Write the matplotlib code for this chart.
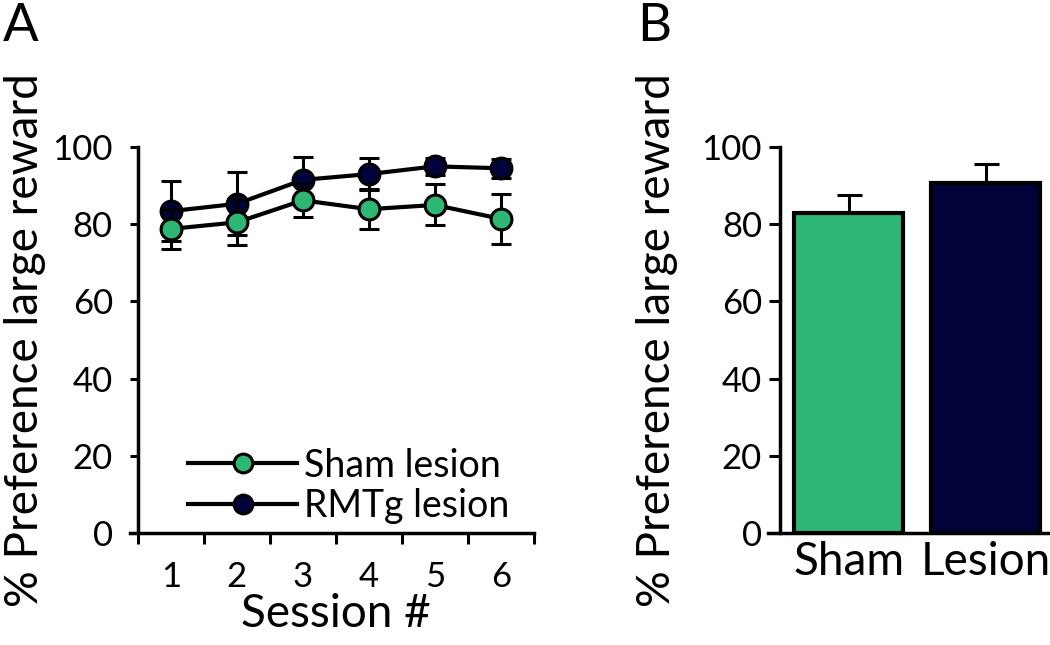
import matplotlib.pyplot as plt
import numpy as np

plt.rcParams['font.family'] = ['Lato', 'DejaVu Sans']

# panel A data
sessions = [1, 2, 3, 4, 5, 6]
sham_mean = [78.8, 80.5, 86.2, 83.9, 85.0, 81.4]
sham_err = [5.2, 6.0, 4.3, 5.2, 5.3, 6.4]
rmtg_mean = [83.4, 85.3, 91.5, 93.0, 95.0, 94.5]
rmtg_err = [7.8, 8.2, 5.8, 4.2, 2.2, 2.4]

# panel B data
groups = ['Sham', 'Lesion']
group_mean = [82.8, 90.8]
group_err = [4.8, 4.7]

green = '#2db674'
navy = '#02023a'
ylabel = '% Preference large reward'

fig = plt.figure(figsize=(10.5, 6.45), dpi=100)
axA = fig.add_axes([0.1314, 0.1736, 0.377, 0.5984])
axB = fig.add_axes([0.743, 0.1736, 0.261, 0.5984])

# ---- panel A
for mean, err, col, lab, z in [(rmtg_mean, rmtg_err, navy, 'RMTg lesion', 3),
                               (sham_mean, sham_err, green, 'Sham lesion', 4)]:
    axA.errorbar(sessions, mean, yerr=err, fmt='none', ecolor='black',
                 elinewidth=2.2, capsize=7.5, capthick=2.2, zorder=z - 1)
    axA.plot(sessions, mean, '-o', color='black', lw=3, markersize=15,
             markerfacecolor=col, markeredgecolor='black', markeredgewidth=2.2,
             label=lab, zorder=z)

axA.set_xlim(0.5, 6.5)
axA.set_ylim(0, 100)
axA.set_xticks(sessions)
axA.set_xticks(np.arange(0.5, 7, 1), minor=True)
axA.tick_params(axis='x', which='major', length=0, pad=20, labelsize=25)
axA.tick_params(axis='x', which='minor', length=8, width=2.2, direction='out')
axA.set_yticks([0, 20, 40, 60, 80, 100])
axA.tick_params(axis='y', length=6, width=2.2, pad=12, labelsize=25)
axA.set_xlabel('Session #', fontsize=33, labelpad=0)
axA.set_ylabel(ylabel, fontsize=33, labelpad=5)
axA.spines['bottom'].set_bounds(0.38, 6.5)

handles, labels = axA.get_legend_handles_labels()
axA.legend(handles[::-1], labels[::-1], loc='lower left', bbox_to_anchor=(0.07, -0.035),
           frameon=False, fontsize=27, handlelength=2.9, handletextpad=0.2,
           labelspacing=0.12, markerscale=0.9, borderaxespad=0.2)

# ---- panel B
xb = np.arange(len(groups))
axB.bar(xb, group_mean, width=0.8, color=[green, navy], edgecolor='black',
        linewidth=3, zorder=3)
axB.errorbar(xb, group_mean, yerr=[[0, 0], group_err], fmt='none', ecolor='black',
             elinewidth=2.2, capsize=9, capthick=2.2, zorder=2)
axB.set_xlim(-0.5, 1.5)
axB.set_ylim(0, 100)
axB.set_xticks(xb)
axB.set_xticklabels(groups)
axB.tick_params(axis='x', length=0, pad=6, labelsize=33)
axB.set_yticks([0, 20, 40, 60, 80, 100])
axB.tick_params(axis='y', length=8, width=2.2, pad=5, labelsize=25)
axB.set_ylabel(ylabel, fontsize=33, labelpad=17)
axB.spines['bottom'].set_bounds(-0.59, 1.5)

for ax in (axA, axB):
    ax.spines['top'].set_visible(False)
    ax.spines['right'].set_visible(False)
    ax.spines['left'].set_linewidth(2.5)
    ax.spines['bottom'].set_linewidth(2.5)

fig.text(0.003, 0.995, 'A', fontsize=38, ha='left', va='top')
fig.text(0.607, 0.995, 'B', fontsize=38, ha='left', va='top')

fig.savefig('out.png', dpi=100)
